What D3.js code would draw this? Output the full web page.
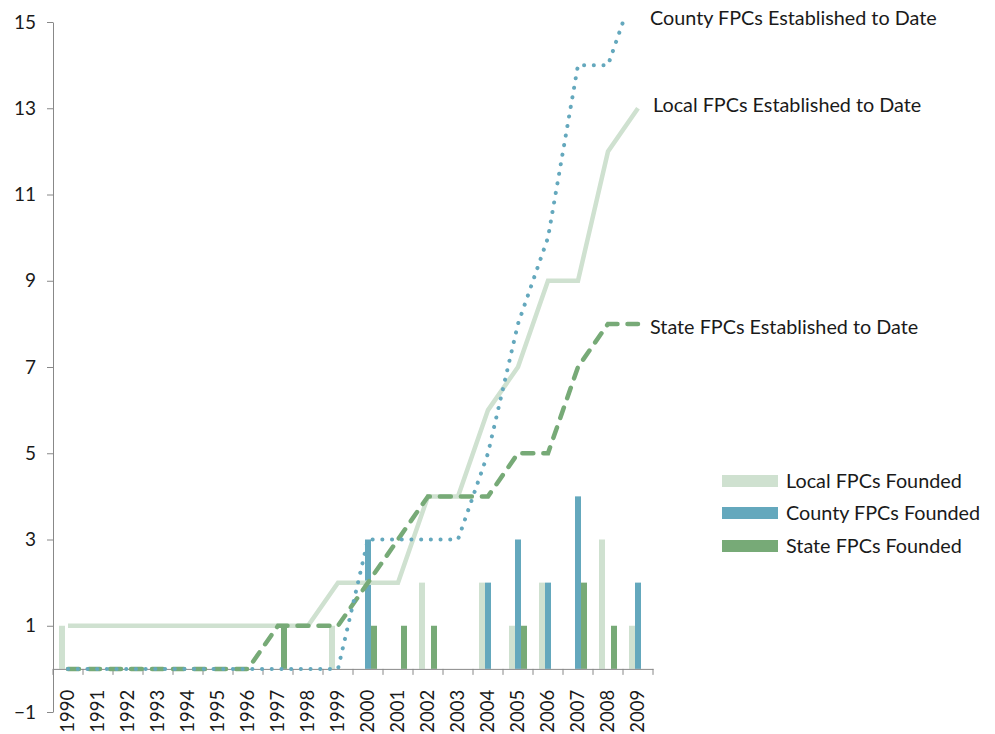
<!DOCTYPE html>
<html>
<head>
<meta charset="utf-8">
<script src="https://cdn.jsdelivr.net/npm/d3@7"></script>
<style>
  body { margin: 0; background: #fff; }
  text { font-family: Lato, "Open Sans", sans-serif; fill: #1a1a1a; }
</style>
</head>
<body>
<div id="chart-area"></div>
<script>
// data
const years = d3.range(1990, 2010).map(String)
const localFounded  = [1,0,0,0,0,0,0,0,0,1, 0,0,2,0,2,1,2,0,3,1]
const countyFounded = [0,0,0,0,0,0,0,0,0,0, 3,0,0,0,2,3,2,4,0,2]
const stateFounded  = [0,0,0,0,0,0,0,1,0,0, 1,1,1,0,0,1,0,2,1,0]
const localToDate   = [1,1,1,1,1,1,1,1,1,2, 2,2,4,4,6,7,9,9,12,13]
const countyToDate  = [0,0,0,0,0,0,0,0,0,0, 3,3,3,3,5,8,10,14,14,16]
const stateToDate   = [0,0,0,0,0,0,0,1,1,1, 2,3,4,4,4,5,5,7,8,8]
const yTicks = [-1, 1, 3, 5, 7, 9, 11, 13, 15]

const WIDTH = 995
const HEIGHT = 734
const LEFT = 53, RIGHT = 653, TOP = 22, BOTTOM = 712

const C_LOCAL = "#cfe1d0", C_COUNTY = "#64a8bd", C_STATE = "#77aa77"

const svg = d3.select("#chart-area").append("svg")
    .attr("width", WIDTH)
    .attr("height", HEIGHT)

const x = d3.scaleBand()
    .domain(years)
    .range([LEFT, RIGHT])

const y = d3.scaleLinear()
    .domain([-1, 15])
    .range([BOTTOM, TOP])

const series = ["local", "county", "state"]
const xs = d3.scaleBand()
    .domain(series)
    .range([x.bandwidth() / 2 - 9, x.bandwidth() / 2 + 9])

// bars
const bars = [
    {key: "local", values: localFounded, color: C_LOCAL},
    {key: "county", values: countyFounded, color: C_COUNTY},
    {key: "state", values: stateFounded, color: C_STATE}
]
bars.forEach(s => {
    svg.append("g").selectAll("rect")
        .data(years.map((yr, i) => ({yr, v: s.values[i]})).filter(d => d.v > 0))
        .enter().append("rect")
        .attr("x", d => x(d.yr) + xs(s.key))
        .attr("y", d => y(d.v))
        .attr("width", xs.bandwidth())
        .attr("height", d => y(0) - y(d.v))
        .attr("fill", s.color)
})

// y axis
const yAxis = svg.append("g")
    .attr("transform", `translate(${LEFT}, 0)`)
    .call(d3.axisLeft(y).tickValues(yTicks).tickSize(6).tickSizeOuter(0).tickPadding(11))
yAxis.select(".domain").attr("stroke", "#888")
yAxis.selectAll(".tick line").attr("stroke", "#888")
yAxis.selectAll("text").attr("font-size", "19px").attr("fill", "#1a1a1a")
    .style("font-family", "Lato, 'Open Sans', sans-serif")

// x axis at zero
const xAxis = svg.append("g")
    .attr("transform", `translate(0, ${y(0)})`)
    .call(d3.axisBottom(x).tickSize(0).tickSizeOuter(0))
xAxis.select(".domain").attr("stroke", "#888")
xAxis.selectAll("text")
    .attr("font-size", "18.5px")
    .attr("fill", "#1a1a1a")
    .style("font-family", "Lato, 'Open Sans', sans-serif")
    .attr("text-anchor", "end")
    .attr("transform", "rotate(-90)")
    .attr("x", -21)
    .attr("y", 0)
    .attr("dy", "0.35em")
xAxis.selectAll(".bound")
    .data(d3.range(years.length + 1))
    .enter().append("line")
    .attr("x1", i => LEFT + i * x.step())
    .attr("x2", i => LEFT + i * x.step())
    .attr("y1", 0).attr("y2", 6)
    .attr("stroke", "#888")

// clip for lines running off the top
svg.append("clipPath").attr("id", "plot-clip")
    .append("rect")
    .attr("x", 0).attr("y", y(15) - 2)
    .attr("width", WIDTH).attr("height", HEIGHT)

const line = d3.line()
    .x((d, i) => x(years[i]) + x.bandwidth() / 2)
    .y(d => y(d))

const lines = svg.append("g").attr("clip-path", "url(#plot-clip)")

lines.append("path")
    .attr("d", line(localToDate))
    .attr("fill", "none")
    .attr("stroke", C_LOCAL)
    .attr("stroke-width", 4.5)

lines.append("path")
    .attr("d", line(stateToDate))
    .attr("fill", "none")
    .attr("stroke", C_STATE)
    .attr("stroke-width", 4.5)
    .attr("stroke-linecap", "round")
    .attr("stroke-dasharray", "11 10")

lines.append("path")
    .attr("d", line(countyToDate))
    .attr("fill", "none")
    .attr("stroke", C_COUNTY)
    .attr("stroke-width", 4)
    .attr("stroke-linecap", "round")
    .attr("stroke-dasharray", "0.1 9.6")

// series labels
const labels = [
    {text: "County FPCs Established to Date", x: 650, y: 18},
    {text: "Local FPCs Established to Date", x: 653, y: 105},
    {text: "State FPCs Established to Date", x: 650, y: 327}
]
svg.selectAll(".slabel")
    .data(labels)
    .enter().append("text")
    .attr("x", d => d.x)
    .attr("y", d => d.y)
    .attr("dy", "0.35em")
    .attr("font-size", "19.8px")
    .text(d => d.text)

// legend
const legend = svg.append("g")
const legendItems = [
    {text: "Local FPCs Founded", color: C_LOCAL, y: 481},
    {text: "County FPCs Founded", color: C_COUNTY, y: 513},
    {text: "State FPCs Founded", color: C_STATE, y: 546}
]
legendItems.forEach(d => {
    legend.append("rect")
        .attr("x", 722).attr("y", d.y - 6)
        .attr("width", 56).attr("height", 12)
        .attr("fill", d.color)
    legend.append("text")
        .attr("x", 786).attr("y", d.y)
        .attr("dy", "0.35em")
        .attr("font-size", "19.8px")
        .text(d.text)
})
</script>
</body>
</html>
